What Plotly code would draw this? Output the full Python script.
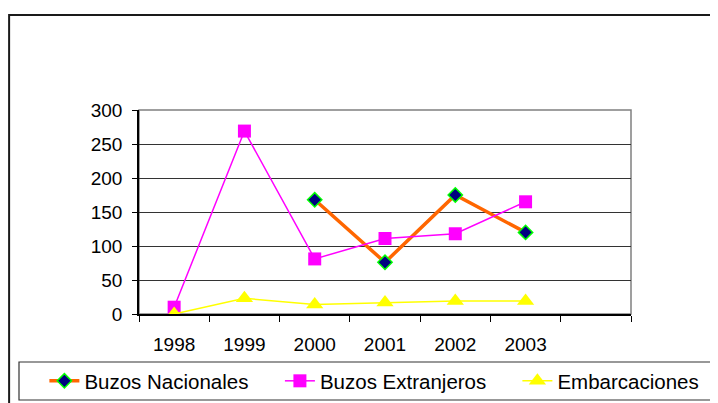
import plotly.graph_objects as go

years = [1998, 1999, 2000, 2001, 2002, 2003]
buzos_nacionales = [None, None, 168, 76, 175, 120]
buzos_extranjeros = [10, 269, 81, 111, 118, 165]
embarcaciones = [0, 23, 14, 17, 19, 19]
y_ticks = [0, 50, 100, 150, 200, 250, 300]

fig = go.Figure()

fig.add_trace(go.Scatter(
    x=years, y=buzos_nacionales, name="Buzos Nacionales",
    mode="lines+markers", legend="legend",
    line=dict(color="#FF6600", width=3.5),
    marker=dict(symbol="diamond", size=11, color="#000080",
                line=dict(color="#00FF00", width=1.5)),
))
fig.add_trace(go.Scatter(
    x=years, y=buzos_extranjeros, name="Buzos Extranjeros",
    mode="lines+markers", legend="legend2",
    line=dict(color="#FF00FF", width=1.5),
    marker=dict(symbol="square", size=13, color="#FF00FF"),
))
fig.add_trace(go.Scatter(
    x=years, y=embarcaciones, name="Embarcaciones",
    mode="lines+markers", legend="legend3",
    line=dict(color="#FFFF00", width=1.5),
    marker=dict(symbol="triangle-up", size=15, color="#FFFF00"),
))

# outer chart frame (runs off the right/bottom edges)
fig.add_shape(type="rect", xref="paper", yref="paper",
              x0=-0.264, x1=1.4, y0=-0.7, y1=1.466,
              line=dict(color="#1a1a1a", width=2), layer="below")
# plot area border
fig.add_shape(type="rect", xref="paper", yref="paper",
              x0=0, x1=1, y0=0, y1=1,
              line=dict(color="#808080", width=1.5), layer="below")
# legend box
fig.add_shape(type="rect", xref="paper", yref="paper",
              x0=-0.2439, x1=1.1626, y0=-0.4216, y1=-0.2353,
              line=dict(color="#333333", width=1.2), layer="below")

font = "Liberation Sans, Arial, sans-serif"
leg_font = dict(family=font, size=20.5, color="black")
leg_common = dict(y=-0.3284, yanchor="middle", xanchor="left",
                  bgcolor="rgba(0,0,0,0)", borderwidth=0, font=leg_font)

fig.update_layout(
    width=710, height=395,
    margin=dict(l=131, r=87, t=102, b=89, autoexpand=False),
    paper_bgcolor="white", plot_bgcolor="white",
    font=dict(family=font, size=19, color="black"),
    showlegend=True,
    legend=dict(x=-0.1923, **leg_common),
    legend2=dict(x=0.2864, **leg_common),
    legend3=dict(x=0.7691, **leg_common),
    xaxis=dict(
        range=[1997.5, 2004.5], tickvals=years, ticktext=[str(y) for y in years],
        ticks="", showgrid=False, zeroline=False,
        showline=True, linecolor="black", linewidth=1.5,
        ticklabelstandoff=12,
        minor=dict(tickmode="linear", tick0=1997.5, dtick=1,
                   ticks="outside", ticklen=6, tickcolor="black", showgrid=False),
    ),
    yaxis=dict(
        range=[0, 300], tickvals=y_ticks,
        ticks="outside", ticklen=5, tickcolor="black",
        showgrid=True, gridcolor="#333333", gridwidth=1,
        zeroline=False, showline=True, linecolor="black", linewidth=1.5,
        ticklabelstandoff=6,
    ),
)

fig.write_html("out.html")
